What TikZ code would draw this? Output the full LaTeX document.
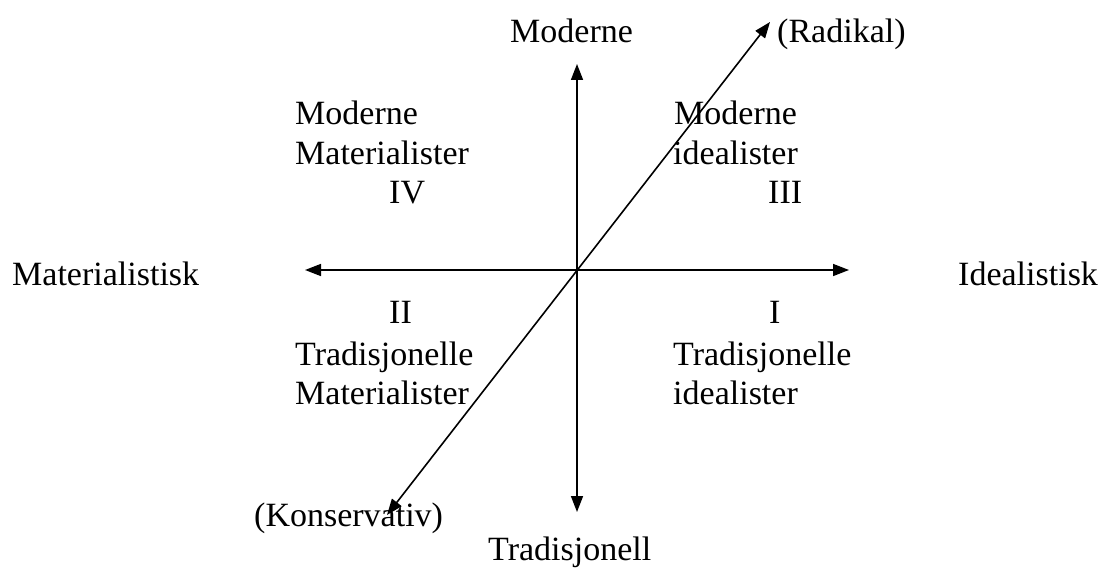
\documentclass[tikz,border=0pt]{standalone}
\usepackage{fontspec}
\setmainfont{Liberation Serif}
\usepackage{tikz}
\usetikzlibrary{arrows.meta}

\tikzset{
  axis/.style={line width=1.6pt, {Triangle[length=16pt,width=12pt]}-{Triangle[length=16pt,width=12pt]}},
  lbl/.style={inner sep=0pt, anchor=base west, font=\fontsize{34}{41}\selectfont}
}

\begin{document}
\begin{tikzpicture}[x=1pt, y=-1pt]
  \useasboundingbox (0,0) rectangle (1102,572);

  % akser
  \coordinate (O) at (577,270);
  \coordinate (west) at (305,270);
  \coordinate (east) at (849,270);
  \coordinate (north) at (577,64);
  \coordinate (south) at (577,512);
  \coordinate (sw) at (387,515);
  \coordinate (ne) at (770,22);
  \draw[axis] (west) -- (east);
  \draw[axis] (south) -- (north);
  \draw[axis] (sw) -- (ne);

  % aksetitler
  \node[lbl] (mod) at (510,43) {Moderne};
  \node[lbl] (rad) at (777,43) {(Radikal)};
  \node[lbl] (mat) at (12,285) {Materialistisk};
  \node[lbl] (ide) at (958,285) {Idealistisk};
  \node[lbl] (kon) at (254,526) {(Konservativ)};
  \node[lbl] (tra) at (488,560) {Tradisjonell};

  % kvadrant IV
  \node[lbl] (q4a) at (295,125) {Moderne};
  \node[lbl] (q4b) at (295,165) {Materialister};
  \node[lbl] (q4n) at (389,204) {IV};

  % kvadrant III
  \node[lbl] (q3a) at (674,125) {Moderne};
  \node[lbl] (q3b) at (673,165) {idealister};
  \node[lbl] (q3n) at (768,204) {III};

  % kvadrant II
  \node[lbl] (q2n) at (389,323) {II};
  \node[lbl] (q2a) at (295,365) {Tradisjonelle};
  \node[lbl] (q2b) at (295,404) {Materialister};

  % kvadrant I
  \node[lbl] (q1n) at (769,323) {I};
  \node[lbl] (q1a) at (673,365) {Tradisjonelle};
  \node[lbl] (q1b) at (673,404) {idealister};
\end{tikzpicture}
\end{document}
